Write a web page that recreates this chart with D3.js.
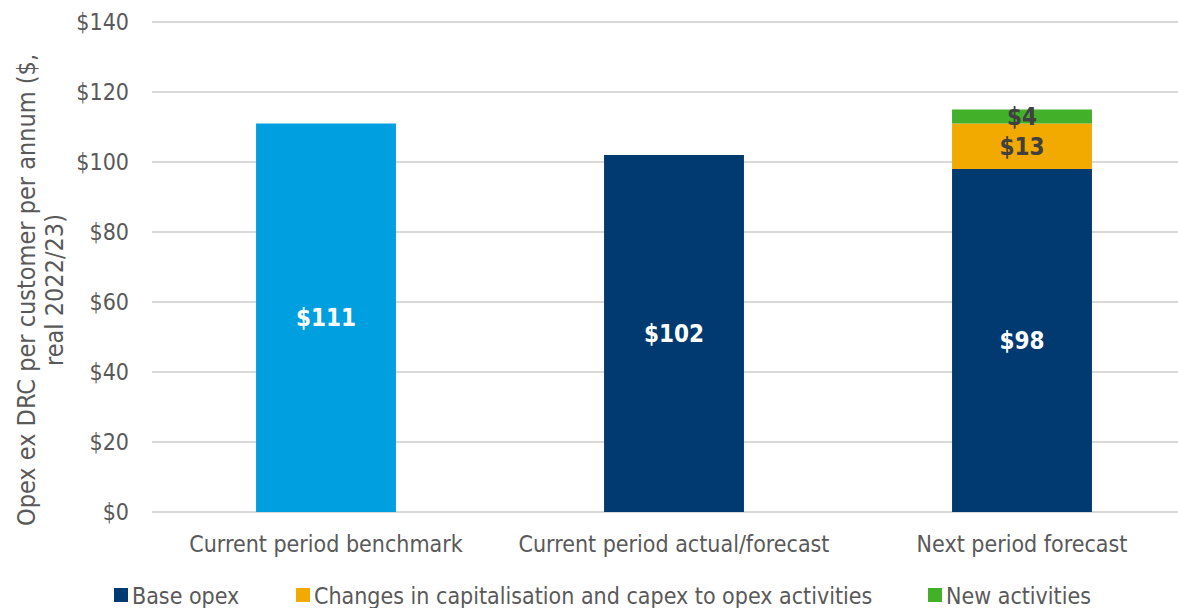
<!DOCTYPE html>
<html>
<head>
<meta charset="utf-8">
<script src="https://cdn.jsdelivr.net/npm/d3@7"></script>
<style>
  html, body { margin: 0; padding: 0; background: #fff; }
  svg { display: block; font-family: "DejaVu Sans Condensed", "DejaVu Sans", sans-serif; }
</style>
</head>
<body>
<svg id="chart" width="1178" height="608"></svg>
<script>
// Opex per customer, $ real 2022/23
const categories = ["Current period benchmark", "Current period actual/forecast", "Next period forecast"];
const benchmark = [111, 0, 0];
const baseOpex = [0, 102, 98];
const capChanges = [0, 0, 13];
const newActivities = [0, 0, 4];
const yTicks = [0, 20, 40, 60, 80, 100, 120, 140];
const legendLabels = ["Base opex", "Changes in capitalisation and capex to opex activities", "New activities"];

const colors = {
  benchmark: "#00A0E0",
  base: "#003A70",
  cap: "#F2A900",
  fresh: "#43B02A"
};

const svg = d3.select("#chart");
const W = 1178, H = 608;
const plot = { left: 152, right: 1196, top: 22, bottom: 512 };

const x = d3.scaleBand().domain(categories).range([plot.left, plot.right]).paddingInner(0.598).paddingOuter(0.299);
const y = d3.scaleLinear().domain([0, 140]).range([plot.bottom, plot.top]);

// gridlines
svg.append("g")
  .selectAll("line")
  .data(yTicks)
  .join("line")
  .attr("x1", plot.left).attr("x2", W)
  .attr("y1", d => y(d)).attr("y2", d => y(d))
  .attr("stroke", "#d9d9d9").attr("stroke-width", 2);

// y tick labels
svg.append("g")
  .selectAll("text")
  .data(yTicks)
  .join("text")
  .attr("x", 129).attr("y", d => y(d))
  .attr("dy", "0.36em")
  .attr("text-anchor", "end")
  .attr("font-size", 23).attr("fill", "#595959")
  .text(d => "$" + d);

// y axis title
const title = svg.append("text")
  .attr("transform", "translate(40,290) rotate(-90)")
  .attr("text-anchor", "middle")
  .attr("font-size", 25).attr("fill", "#595959");
title.append("tspan").attr("x", 0).attr("dy", "-0.2em").text("Opex ex DRC per customer per annum ($,");
title.append("tspan").attr("x", 0).attr("dy", "1.1em").text("real 2022/23)");

// stacked segments
const rows = categories.map((c, i) => ({
  cat: c,
  segs: [
    { key: "benchmark", v: benchmark[i], labelColor: "#fff" },
    { key: "base", v: baseOpex[i], labelColor: "#fff" },
    { key: "cap", v: capChanges[i], labelColor: "#404040" },
    { key: "fresh", v: newActivities[i], labelColor: "#404040" }
  ]
}));
rows.forEach(r => {
  let acc = 0;
  r.segs.forEach(s => { s.y0 = acc; acc += s.v; s.y1 = acc; });
});

const barG = svg.append("g");
rows.forEach(r => {
  const segs = r.segs.filter(s => s.v > 0);
  barG.selectAll(null)
    .data(segs)
    .join("rect")
    .attr("x", x(r.cat))
    .attr("width", x.bandwidth())
    .attr("y", d => y(d.y1))
    .attr("height", d => y(d.y0) - y(d.y1))
    .attr("fill", d => colors[d.key]);
  barG.selectAll(null)
    .data(segs)
    .join("text")
    .attr("x", x(r.cat) + x.bandwidth() / 2)
    .attr("y", d => (y(d.y0) + y(d.y1)) / 2)
    .attr("dy", "0.36em")
    .attr("text-anchor", "middle")
    .attr("font-weight", "bold")
    .attr("font-size", 24)
    .attr("fill", d => d.labelColor)
    .text(d => "$" + d.v);
});

// category labels
svg.append("g")
  .selectAll("text")
  .data(categories)
  .join("text")
  .attr("x", d => x(d) + x.bandwidth() / 2)
  .attr("y", 552)
  .attr("text-anchor", "middle")
  .attr("font-size", 23).attr("fill", "#595959")
  .text(d => d);

// legend
const legendItems = [
  { label: legendLabels[0], color: colors.base, x: 114 },
  { label: legendLabels[1], color: colors.cap, x: 296 },
  { label: legendLabels[2], color: colors.fresh, x: 928 }
];
const lg = svg.append("g");
lg.selectAll("rect")
  .data(legendItems)
  .join("rect")
  .attr("x", d => d.x).attr("y", 588)
  .attr("width", 14).attr("height", 14)
  .attr("fill", d => d.color);
lg.selectAll("text")
  .data(legendItems)
  .join("text")
  .attr("x", d => d.x + 18).attr("y", 604)
  .attr("font-size", 23).attr("fill", "#595959")
  .text(d => d.label);
</script>
</body>
</html>
